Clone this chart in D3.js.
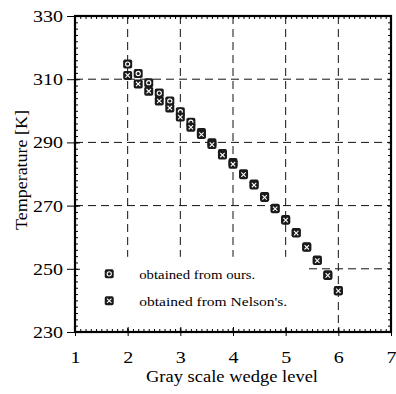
<!DOCTYPE html>
<html>
<head>
<meta charset="utf-8">
<script src="https://cdn.jsdelivr.net/npm/d3@7"></script>
<style>
  html, body { margin: 0; padding: 0; background: #fff; }
  svg text { font-family: "Liberation Serif", "Times New Roman", serif; fill: #000; }
</style>
</head>
<body>
<svg id="chart" width="396" height="394"></svg>
<script>
// Gray scale wedge levels and the temperatures derived for each
const levels      = [2.0, 2.2, 2.4, 2.6, 2.8, 3.0, 3.2, 3.4, 3.6, 3.8, 4.0, 4.2, 4.4, 4.6, 4.8, 5.0, 5.2, 5.4, 5.6, 5.8, 6.0];
const oursTemps   = [314.8, 311.8, 308.9, 305.6, 303.1, 299.7, 296.4, 293.1, 289.9, 286.5, 283.6, 280.1, 276.8, 272.9, 269.2, 265.6, 261.5, 257.0, 252.8, 248.1, 243.1];
const nelsonTemps = [311.2, 308.5, 306.2, 303.1, 300.9, 298.0, 294.8, 292.5, 289.3, 286.0, 283.1, 279.8, 276.5, 272.6, 269.0, 265.4, 261.3, 256.8, 252.6, 247.9, 243.0];

const xTicks = [1, 2, 3, 4, 5, 6, 7];
const yTicks = [230, 250, 270, 290, 310, 330];
const gridX  = [2, 3, 4, 5, 6];
const gridY  = [250, 270, 290, 310];
const legendLabels = ["obtained  from  ours.", "obtained  from  Nelson's."];
const xTitle = "Gray scale wedge level";
const yTitle = "Temperature [K]";

const W = 396, H = 394;
const plot = { left: 75, right: 391, top: 16, bottom: 332 };

const svg = d3.select("#chart");

const x = d3.scaleLinear().domain([1, 7]).range([plot.left, plot.right]);
const y = d3.scaleLinear().domain([230, 330]).range([plot.bottom, plot.top]);

// dashed grid
const grid = svg.append("g").attr("stroke", "#111").attr("stroke-width", 1)
  .attr("stroke-dasharray", "8,5").attr("fill", "none");
grid.selectAll("line.gx").data(gridX).join("line").attr("class", "gx")
  .attr("x1", d => x(d)).attr("x2", d => x(d))
  .attr("y1", plot.top).attr("y2", plot.bottom);
grid.selectAll("line.gy").data(gridY).join("line").attr("class", "gy")
  .attr("y1", d => y(d)).attr("y2", d => y(d))
  .attr("x1", plot.left).attr("x2", plot.right);

// legend panel masks the grid beneath it
const legendBox = { x0: 1.02, x1: 5.42, t0: 253.8, t1: 232.0 };
svg.append("rect")
  .attr("x", x(legendBox.x0)).attr("y", y(legendBox.t0))
  .attr("width", x(legendBox.x1) - x(legendBox.x0))
  .attr("height", y(legendBox.t1) - y(legendBox.t0))
  .attr("fill", "#fff");

// axes with inward minor ticks on all four sides
function minorTicks(scale, step) {
  const [a, b] = scale.domain();
  const out = [];
  for (let v = a; v <= b + 1e-9; v += step) out.push(+v.toFixed(4));
  return out;
}
const xMinor = minorTicks(x, 0.1);
const yMinor = minorTicks(y, 2);

const axB = svg.append("g").attr("transform", `translate(0,${plot.bottom})`)
  .call(d3.axisBottom(x).tickValues(xMinor).tickSize(-3).tickFormat(""));
const axT = svg.append("g").attr("transform", `translate(0,${plot.top})`)
  .call(d3.axisTop(x).tickValues(xMinor).tickSize(-3).tickFormat(""));
const axL = svg.append("g").attr("transform", `translate(${plot.left},0)`)
  .call(d3.axisLeft(y).tickValues(yMinor).tickSize(-3).tickFormat(""));
const axR = svg.append("g").attr("transform", `translate(${plot.right},0)`)
  .call(d3.axisRight(y).tickValues(yMinor).tickSize(-3).tickFormat(""));

// major ticks with labels (outer tick plus a short inner one)
const axBM = svg.append("g").attr("transform", `translate(0,${plot.bottom})`)
  .call(d3.axisBottom(x).tickValues(xTicks).tickSize(4).tickPadding(15).tickFormat(d3.format("d")));
const axLM = svg.append("g").attr("transform", `translate(${plot.left},0)`)
  .call(d3.axisLeft(y).tickValues(yTicks).tickSize(8).tickPadding(4).tickFormat(d3.format("d")));
axBM.selectAll(".tick line").clone().attr("y2", -5);
axLM.selectAll(".tick line").clone().attr("x2", 5);

[axB, axT, axL, axR, axBM, axLM].forEach(g => {
  g.select(".domain").remove();
  g.selectAll(".tick line").attr("stroke", "#000").attr("stroke-width", 1);
});
axBM.selectAll("text").attr("font-size", 17).attr("fill", "#000")
  .attr("textLength", 10).attr("lengthAdjust", "spacingAndGlyphs");
axLM.selectAll("text").attr("font-size", 17).attr("fill", "#000")
  .attr("textLength", 30).attr("lengthAdjust", "spacingAndGlyphs");

// frame
svg.append("rect")
  .attr("x", plot.left).attr("y", plot.top)
  .attr("width", plot.right - plot.left).attr("height", plot.bottom - plot.top)
  .attr("fill", "none").attr("stroke", "#000").attr("stroke-width", 2.2);

// axis titles
svg.append("text")
  .attr("x", 146).attr("y", 382)
  .attr("font-size", 17)
  .attr("textLength", 172).attr("lengthAdjust", "spacingAndGlyphs")
  .text(xTitle);
svg.append("text")
  .attr("transform", `translate(27,230) rotate(-90)`)
  .attr("font-size", 17)
  .attr("textLength", 120).attr("lengthAdjust", "spacingAndGlyphs")
  .text(yTitle);

// markers: dark square with a white ring (ours) or a white cross (Nelson's)
function drawMarker(g, kind) {
  g.append("rect").attr("x", -4.5).attr("y", -4.5).attr("width", 9).attr("height", 9)
    .attr("rx", 1.8).attr("fill", "#1a1a1a");
  if (kind === "ours") {
    g.append("circle").attr("r", 2.1).attr("fill", "none")
      .attr("stroke", "#fff").attr("stroke-width", 1.1);
  } else {
    g.append("path").attr("d", "M-2.2,-2.2L2.2,2.2M2.2,-2.2L-2.2,2.2")
      .attr("stroke", "#fff").attr("stroke-width", 1.1);
  }
}

const series = [
  { kind: "ours", temps: oursTemps },
  { kind: "nelson", temps: nelsonTemps }
];
series.forEach(s => {
  svg.append("g").selectAll("g").data(levels).join("g")
    .attr("transform", (d, i) => `translate(${x(d)},${y(s.temps[i])})`)
    .each(function () { drawMarker(d3.select(this), s.kind); });
});

// legend
const legendPos = [{ lx: 1.65, t: 248.4 }, { lx: 1.65, t: 239.9 }];
const legendWidths = [116, 148];
legendLabels.forEach((label, i) => {
  const g = svg.append("g")
    .attr("transform", `translate(${x(legendPos[i].lx)},${y(legendPos[i].t)})`);
  drawMarker(g, i === 0 ? "ours" : "nelson");
  g.append("text").attr("x", 30).attr("y", 5)
    .attr("font-size", 13)
    .attr("textLength", legendWidths[i]).attr("lengthAdjust", "spacingAndGlyphs")
    .text(label);
});
</script>
</body>
</html>
